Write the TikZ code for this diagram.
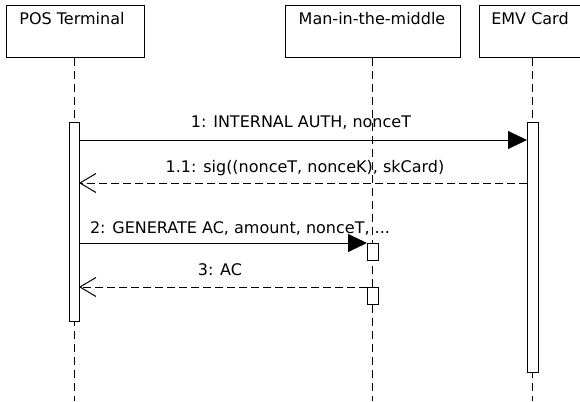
\documentclass[tikz,border=0pt]{standalone}
\usepackage{fontspec}
\setmainfont{DejaVu Sans}
\usetikzlibrary{arrows.meta}
\begin{document}
\begin{tikzpicture}[x=1pt,y=-1pt,
  actorbox/.style={draw,line width=1pt,fill=white},
  actorname/.style={font=\fontsize{16}{19}\selectfont,inner sep=0pt,anchor=base},
  lifeline/.style={line width=1pt,dash pattern=on 8pt off 5pt},
  activation/.style={draw,line width=1pt,fill=white},
  callmsg/.style={line width=1pt,-{Triangle[length=19pt,width=18pt]}},
  replymsg/.style={line width=1pt,dash pattern=on 8pt off 4pt,-{Straight Barb[length=16pt,width=19pt,line width=1pt]}},
  msglabel/.style={font=\fontsize{16}{19}\selectfont,inner sep=0pt,anchor=base}]
\useasboundingbox (0,0) rectangle (580,401);

% actor heads
\draw[actorbox] (6,6) rectangle (144,58);
\draw[actorbox] (285,6) rectangle (460,58);
\draw[actorbox] (479,6) rectangle (582,58);
\node[actorname] (posname) at (72,25) {POS Terminal};
\node[actorname] (mitmname) at (372,25) {Man-in-the-middle};
\node[actorname] (cardname) at (530,25) {EMV Card};

% lifelines
\coordinate (posTop) at (74,58);  \coordinate (posBot) at (74,401);
\coordinate (mitmTop) at (372,58); \coordinate (mitmBot) at (372,401);
\coordinate (cardTop) at (532,58); \coordinate (cardBot) at (532,401);
\draw[lifeline] (posTop) -- (posBot);
\draw[lifeline] (mitmTop) -- (mitmBot);
\draw[lifeline] (cardTop) -- (cardBot);

% activation bars
\draw[activation] (69,122) rectangle (79,321);
\draw[activation] (527,122) rectangle (538,372);
\draw[activation] (367,243) rectangle (378,260);
\draw[activation] (367,287) rectangle (378,304);

% message end points
\coordinate (m1s) at (79,140);  \coordinate (m1e) at (527,140);
\coordinate (m2s) at (527,183); \coordinate (m2e) at (79,183);
\coordinate (m3s) at (79,243);  \coordinate (m3e) at (367,243);
\coordinate (m4s) at (367,287); \coordinate (m4e) at (79,287);

\draw[callmsg] (m1s) -- (m1e);
\draw[replymsg] (m2s) -- (m2e);
\draw[callmsg] (m3s) -- (m3e);
\draw[replymsg] (m4s) -- (m4e);

\node[msglabel] (l1) at (301,128) {1: INTERNAL AUTH, nonceT};
\node[msglabel] (l2) at (305,172) {1.1: sig((nonceT, nonceK), skCard)};
\node[msglabel] (l3) at (240,233) {2: GENERATE AC, amount, nonceT, ...};
\node[msglabel] (l4) at (220,275) {3: AC};
\end{tikzpicture}
\end{document}
